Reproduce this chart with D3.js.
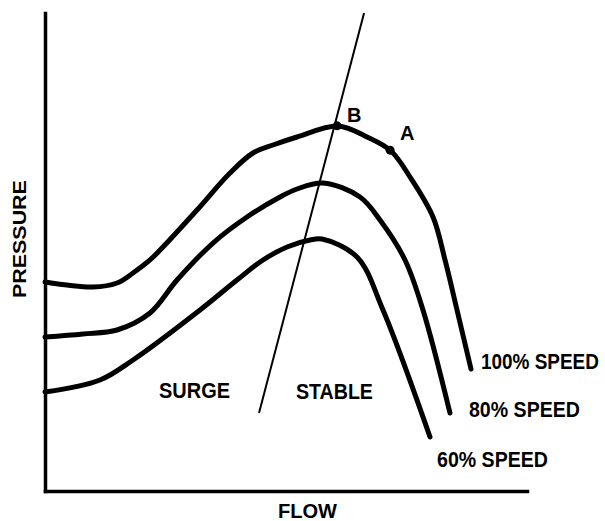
<!DOCTYPE html>
<html>
<head>
<meta charset="utf-8">
<script src="https://cdn.jsdelivr.net/npm/d3@7"></script>
<style>
  html, body { margin: 0; padding: 0; background: #fff; }
  svg { display: block; }
  text { font-family: "Liberation Sans", Arial, sans-serif; font-weight: bold; fill: #000; }
</style>
</head>
<body>
<div id="chart"></div>
<script>
// Compressor map (flow and pressure on a 0-100 scale)
const speeds = ['100% SPEED', '80% SPEED', '60% SPEED'];

const flow100 = [0, 9.96, 14.94, 18.26, 21.78, 24.48, 31.54, 38.38, 43.15, 47.30, 52.28, 60.79, 66.80, 71.78, 75.73, 80.50, 82.99, 85.48, 88.38];
const press100 = [43.72, 42.68, 43.51, 45.61, 48.33, 51.05, 58.79, 66.53, 70.71, 72.38, 74.06, 76.36, 74.06, 71.13, 65.69, 57.32, 48.33, 37.87, 25.52];

const flow80 = [0, 7.88, 14.94, 21.78, 27.39, 34.85, 41.91, 48.76, 52.28, 57.68, 65.35, 69.50, 74.69, 78.42, 84.02];
const press80 = [32.22, 32.85, 33.68, 37.24, 44.14, 51.88, 57.32, 61.51, 63.18, 64.44, 61.51, 56.69, 48.33, 37.87, 16.32];

const flow60 = [0, 11.41, 18.26, 32.16, 39.83, 45.23, 50.21, 54.98, 57.47, 64.73, 70.12, 79.88];
const press60 = [20.71, 23.22, 27.41, 37.87, 44.14, 48.33, 51.05, 52.51, 52.72, 48.95, 37.87, 11.30];

// surge line end points
const surgeFlow = [44.4, 66.2];
const surgePress = [16.3, 100];

// operating points
const pointNames = ['B', 'A'];
const pointFlow = [60.6, 71.6];
const pointPress = [76.4, 71.3];

const W = 605, H = 521;
const margin = { top: 13, right: 78, bottom: 30, left: 45 };

const svg = d3.select('#chart').append('svg')
    .attr('width', W)
    .attr('height', H);

const x = d3.scaleLinear().domain([0, 100]).range([margin.left, W - margin.right]);
const y = d3.scaleLinear().domain([0, 100]).range([H - margin.bottom, margin.top]);

// squeeze a text horizontally so it spans the given width (the original lettering is condensed)
function addText(px, py, str, size, width, rotate) {
    const t = svg.append('text')
        .attr('font-size', size)
        .text(str);
    const natural = t.node().getComputedTextLength();
    const sx = width / natural;
    t.attr('transform', `translate(${px},${py})` + (rotate ? ` rotate(${rotate})` : '') + ` scale(${sx},1)`);
    return t;
}

// axes with no ticks, just the lines
const xAxis = svg.append('g')
    .attr('transform', `translate(0,${y(0)})`)
    .call(d3.axisBottom(x).ticks(0).tickSizeOuter(0));
const yAxis = svg.append('g')
    .attr('transform', `translate(${x(0)},0)`)
    .call(d3.axisLeft(y).ticks(0).tickSizeOuter(0));
[xAxis, yAxis].forEach(g => g.select('.domain')
    .attr('stroke', '#000')
    .attr('stroke-width', 3.5)
    .attr('stroke-linecap', 'square'));

// speed curves
const series = [
    { name: speeds[0], pts: flow100.map((f, i) => [f, press100[i]]) },
    { name: speeds[1], pts: flow80.map((f, i) => [f, press80[i]]) },
    { name: speeds[2], pts: flow60.map((f, i) => [f, press60[i]]) }
];

const line = d3.line()
    .x(d => x(d[0]))
    .y(d => y(d[1]))
    .curve(d3.curveCatmullRom.alpha(0.5));

svg.selectAll('.speed')
    .data(series)
    .enter()
    .append('path')
    .attr('class', 'speed')
    .attr('d', d => line(d.pts))
    .attr('fill', 'none')
    .attr('stroke', '#000')
    .attr('stroke-width', 5)
    .attr('stroke-linecap', 'round')
    .attr('stroke-linejoin', 'round');

// surge line
svg.append('line')
    .attr('x1', x(surgeFlow[0]))
    .attr('y1', y(surgePress[0]))
    .attr('x2', x(surgeFlow[1]))
    .attr('y2', y(surgePress[1]))
    .attr('stroke', '#000')
    .attr('stroke-width', 2);

// operating points
svg.selectAll('.pt')
    .data(pointNames)
    .enter()
    .append('circle')
    .attr('class', 'pt')
    .attr('cx', (d, i) => x(pointFlow[i]))
    .attr('cy', (d, i) => y(pointPress[i]))
    .attr('r', 4.5)
    .attr('fill', '#000');

svg.selectAll('.pt-label')
    .data(pointNames)
    .enter()
    .append('text')
    .attr('class', 'pt-label')
    .attr('x', (d, i) => x(pointFlow[i]) + 10)
    .attr('y', (d, i) => y(pointPress[i]) - 4 - (i === 0 ? 0 : 6))
    .attr('font-size', 20)
    .text(d => d);

// speed labels next to curve ends
const labelOffsets = [[10, 0], [19, 4], [7, 30]];
const labelWidths = [118, 111, 111];
series.forEach((s, i) => {
    const end = s.pts[s.pts.length - 1];
    addText(x(end[0]) + labelOffsets[i][0], y(end[1]) + labelOffsets[i][1], s.name, 22, labelWidths[i]);
});

// region labels
addText(159, 398, 'SURGE', 22, 71);
addText(296, 399, 'STABLE', 22, 77);

// axis titles
addText(278, 518, 'FLOW', 21, 59);
addText(26, 298, 'PRESSURE', 18, 118, -90);
</script>
</body>
</html>
